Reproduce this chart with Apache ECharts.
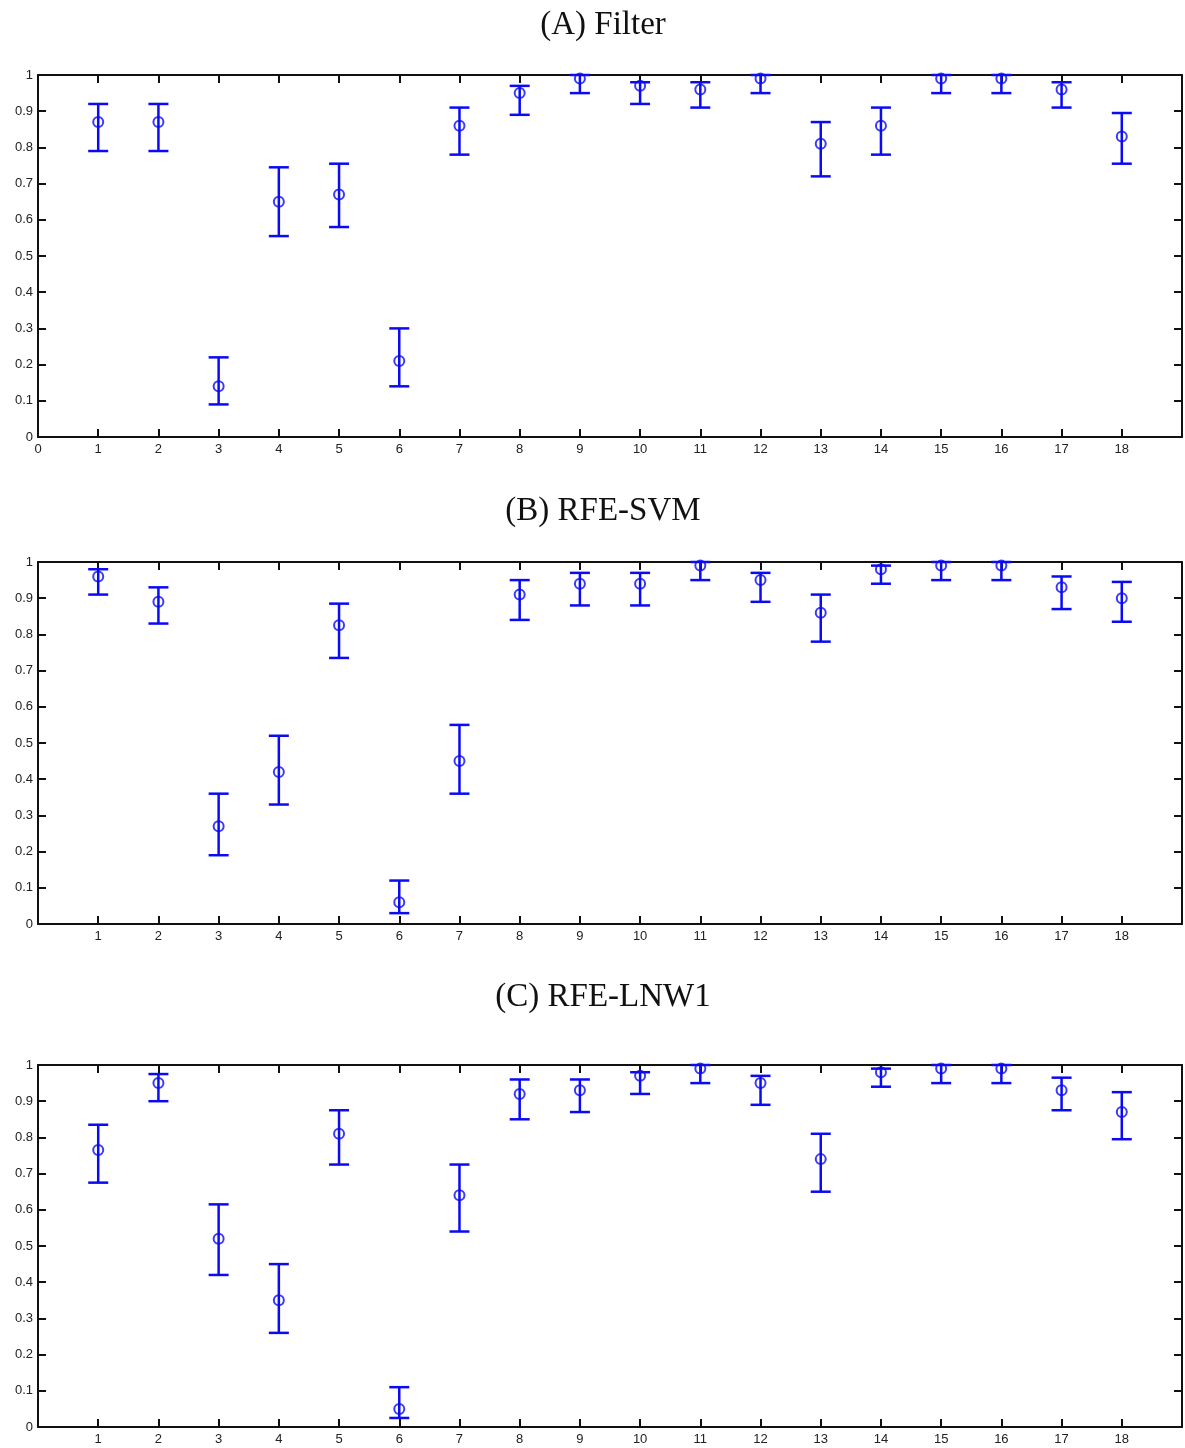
<!DOCTYPE html>
<html>
<head>
<meta charset="utf-8">
<title>Filter / RFE-SVM / RFE-LNW1</title>
<script src="https://cdn.jsdelivr.net/npm/echarts@6/dist/echarts.min.js"></script>
<style>
    html, body { margin: 0; padding: 0; background: #fff; }
    #main { width: 1185px; height: 1448px; }
</style>
</head>
<body>
<div id="main"></div>
<script>
// x positions (feature index) shared by the three panels
var features = [1, 2, 3, 4, 5, 6, 7, 8, 9, 10, 11, 12, 13, 14, 15, 16, 17, 18];

// (A) Filter
var filterMean = [0.87, 0.87, 0.14, 0.65, 0.67, 0.21, 0.86, 0.95, 0.99, 0.97, 0.96, 0.99, 0.81, 0.86, 0.99, 0.99, 0.96, 0.83];
var filterLow  = [0.79, 0.79, 0.09, 0.555, 0.58, 0.14, 0.78, 0.89, 0.95, 0.92, 0.91, 0.95, 0.72, 0.78, 0.95, 0.95, 0.91, 0.755];
var filterHigh = [0.92, 0.92, 0.22, 0.745, 0.755, 0.30, 0.91, 0.97, 1.0, 0.98, 0.98, 1.0, 0.87, 0.91, 1.0, 1.0, 0.98, 0.895];

// (B) RFE-SVM
var svmMean = [0.96, 0.89, 0.27, 0.42, 0.825, 0.06, 0.45, 0.91, 0.94, 0.94, 0.99, 0.95, 0.86, 0.98, 0.99, 0.99, 0.93, 0.90];
var svmLow  = [0.91, 0.83, 0.19, 0.33, 0.735, 0.03, 0.36, 0.84, 0.88, 0.88, 0.95, 0.89, 0.78, 0.94, 0.95, 0.95, 0.87, 0.835];
var svmHigh = [0.98, 0.93, 0.36, 0.52, 0.885, 0.12, 0.55, 0.95, 0.97, 0.97, 1.0, 0.97, 0.91, 0.99, 1.0, 1.0, 0.96, 0.945];

// (C) RFE-LNW1
var lnwMean = [0.765, 0.95, 0.52, 0.35, 0.81, 0.05, 0.64, 0.92, 0.93, 0.97, 0.99, 0.95, 0.74, 0.98, 0.99, 0.99, 0.93, 0.87];
var lnwLow  = [0.675, 0.90, 0.42, 0.26, 0.725, 0.025, 0.54, 0.85, 0.87, 0.92, 0.95, 0.89, 0.65, 0.94, 0.95, 0.95, 0.875, 0.795];
var lnwHigh = [0.835, 0.975, 0.615, 0.45, 0.875, 0.11, 0.725, 0.96, 0.96, 0.98, 1.0, 0.97, 0.81, 0.99, 1.0, 1.0, 0.965, 0.925];

var panelTitles = ['(A) Filter', '(B) RFE-SVM', '(C) RFE-LNW1'];

var panels = [
    {mean: filterMean, low: filterLow, high: filterHigh, showZero: true},
    {mean: svmMean, low: svmLow, high: svmHigh, showZero: false},
    {mean: lnwMean, low: lnwLow, high: lnwHigh, showZero: false}
];

// layout of the three boxes (pixels)
var gridTops = [75, 562, 1065];
var titleTops = [4, 490, 976];
var gridHeight = 362;

var BLUE = '#0a0af5';
var AXIS = '#111';

var myChart = echarts.init(document.getElementById('main'));

var option = {
    backgroundColor: '#fff',
    animation: false,
    title: [],
    grid: [],
    xAxis: [],
    yAxis: [],
    series: []
};

function errorBar(params, api) {
    var x = api.value(0);
    var lo = api.coord([x, api.value(1)]);
    var hi = api.coord([x, api.value(2)]);
    var half = 10;
    var st = {stroke: BLUE, lineWidth: 2.5, fill: null};
    return {
        type: 'group',
        children: [
            {type: 'line', shape: {x1: lo[0], y1: hi[1], x2: lo[0], y2: lo[1]}, style: st},
            {type: 'line', shape: {x1: lo[0] - half, y1: hi[1], x2: lo[0] + half, y2: hi[1]}, style: st},
            {type: 'line', shape: {x1: lo[0] - half, y1: lo[1], x2: lo[0] + half, y2: lo[1]}, style: st}
        ]
    };
}

panels.forEach(function (p, i) {
    option.title.push({
        text: panelTitles[i],
        left: 598,
        top: titleTops[i],
        textAlign: 'center',
        textStyle: {
            fontFamily: 'Liberation Serif',
            fontSize: 33,
            fontWeight: 'normal',
            color: '#111'
        }
    });

    option.grid.push({
        left: 38,
        width: 1146,
        top: gridTops[i],
        height: gridHeight,
        containLabel: false
    });

    var showZero = p.showZero;
    var tickCommon = {
        show: true,
        inside: true,
        length: 8,
        lineStyle: {color: AXIS, width: 2}
    };
    var lineCommon = {show: true, onZero: false, lineStyle: {color: AXIS, width: 2}};

    // bottom x axis with labels
    option.xAxis.push({
        type: 'value',
        gridIndex: i,
        position: 'bottom',
        min: 0,
        max: 19,
        interval: 1,
        axisLine: lineCommon,
        axisTick: tickCommon,
        splitLine: {show: false},
        axisLabel: {
            margin: 6,
            fontFamily: 'Liberation Sans',
            fontSize: 13,
            color: '#222',
            formatter: function (v) {
                if (v >= 19) return '';
                if (v === 0 && !showZero) return '';
                return String(v);
            }
        }
    });
    // top x axis: box edge + ticks only
    option.xAxis.push({
        type: 'value',
        gridIndex: i,
        position: 'top',
        min: 0,
        max: 19,
        interval: 1,
        axisLine: lineCommon,
        axisTick: tickCommon,
        splitLine: {show: false},
        axisLabel: {show: false}
    });
    // left y axis with labels
    option.yAxis.push({
        type: 'value',
        gridIndex: i,
        position: 'left',
        min: 0,
        max: 1,
        interval: 0.1,
        axisLine: lineCommon,
        axisTick: tickCommon,
        splitLine: {show: false},
        axisLabel: {
            margin: 5,
            fontFamily: 'Liberation Sans',
            fontSize: 13,
            color: '#222'
        }
    });
    // right y axis: box edge + ticks only
    option.yAxis.push({
        type: 'value',
        gridIndex: i,
        position: 'right',
        min: 0,
        max: 1,
        interval: 0.1,
        axisLine: lineCommon,
        axisTick: tickCommon,
        splitLine: {show: false},
        axisLabel: {show: false}
    });

    var barData = features.map(function (f, k) { return [f, p.low[k], p.high[k]]; });
    var meanData = features.map(function (f, k) { return [f, p.mean[k]]; });

    option.series.push({
        type: 'custom',
        xAxisIndex: i * 2,
        yAxisIndex: i * 2,
        renderItem: errorBar,
        data: barData,
        clip: false,
        z: 3
    });
    option.series.push({
        type: 'scatter',
        xAxisIndex: i * 2,
        yAxisIndex: i * 2,
        symbol: 'circle',
        symbolSize: 10,
        itemStyle: {color: 'none', borderColor: BLUE, borderWidth: 2},
        data: meanData,
        z: 4
    });
});

myChart.setOption(option);
</script>
</body>
</html>
